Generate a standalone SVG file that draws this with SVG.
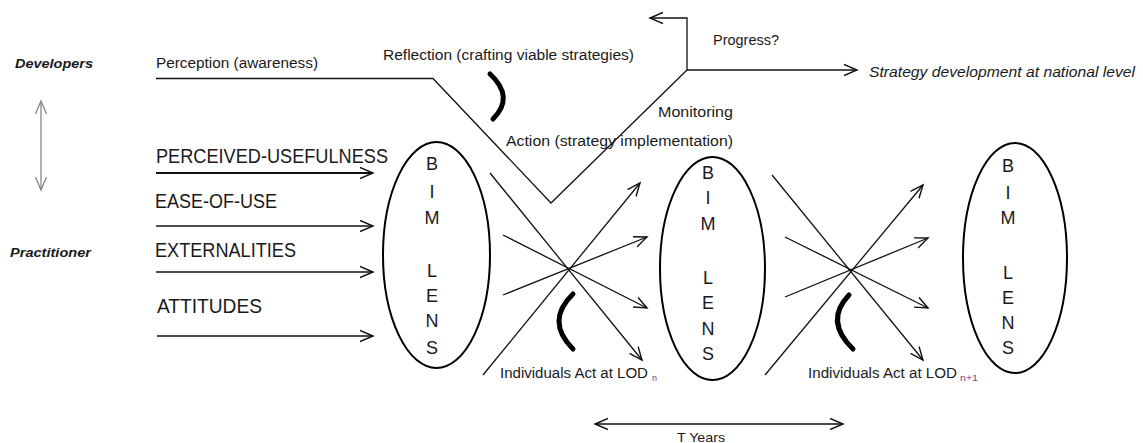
<svg xmlns="http://www.w3.org/2000/svg" width="1143" height="443" viewBox="0 0 1143 443">
<style>
text{font-family:"Liberation Sans",Arial,sans-serif;fill:#1a1a1a}
.t14{font-size:14px}
.big{font-size:20px}
.lens{font-size:18px;text-anchor:middle}
.bi{font-weight:bold;font-style:italic;font-size:13px}
.ln{fill:none;stroke:#111;stroke-width:1.3}
.ar{fill:none;stroke:#111;stroke-width:1.3;marker-end:url(#chev)}
.ar2{fill:none;stroke:#111;stroke-width:2;marker-end:url(#chev)}
.br{fill:none;stroke:#000;stroke-width:5;stroke-linecap:round}
.ell{fill:none;stroke:#000;stroke-width:2}
</style>
<defs>
<marker id="chev" markerUnits="userSpaceOnUse" markerWidth="16" markerHeight="14" refX="13" refY="6" orient="auto-start-reverse" viewBox="0 0 16 12">
<path d="M0,0.5 L13,6 L0,11.5" fill="none" stroke="#111" stroke-width="1.4"/>
</marker>
<marker id="chevg" markerUnits="userSpaceOnUse" markerWidth="16" markerHeight="14" refX="13" refY="6" orient="auto-start-reverse" viewBox="0 0 16 12">
<path d="M0,0.5 L13,6 L0,11.5" fill="none" stroke="#888" stroke-width="1.3"/>
</marker>
</defs>
<rect width="1143" height="443" fill="#fff"/>

<g id="labels">
<text class="bi" x="15" y="68" textLength="78" lengthAdjust="spacingAndGlyphs">Developers</text>
<text class="bi" x="10" y="257" textLength="81" lengthAdjust="spacingAndGlyphs">Practitioner</text>
<text class="t14" x="156" y="68" textLength="162" lengthAdjust="spacingAndGlyphs">Perception (awareness)</text>
<text class="t14" x="383" y="60" textLength="251" lengthAdjust="spacingAndGlyphs">Reflection (crafting viable strategies)</text>
<text class="t14" x="713" y="45" textLength="66" lengthAdjust="spacingAndGlyphs">Progress?</text>
<text class="t14" x="869" y="77" font-style="italic" textLength="266" lengthAdjust="spacingAndGlyphs">Strategy development at national level</text>
<text class="t14" x="658" y="117" textLength="75" lengthAdjust="spacingAndGlyphs">Monitoring</text>
<text class="t14" x="506" y="146" textLength="227" lengthAdjust="spacingAndGlyphs">Action (strategy implementation)</text>
<text class="t14" x="500" y="378" textLength="148" lengthAdjust="spacingAndGlyphs">Individuals Act at LOD</text>
<text x="652" y="381" font-size="9" fill="#7a3a8a" style="fill:#7a3a8a">n</text>
<text class="t14" x="808" y="378" textLength="149" lengthAdjust="spacingAndGlyphs">Individuals Act at LOD</text>
<text x="960" y="381" font-size="9" textLength="18" lengthAdjust="spacingAndGlyphs" style="fill:#7a3a8a">n+1</text>
<text x="677" y="442" font-size="13" textLength="48" lengthAdjust="spacingAndGlyphs">T Years</text>
</g>

<g id="factors">
<text class="big" x="156" y="163" textLength="232" lengthAdjust="spacingAndGlyphs">PERCEIVED-USEFULNESS</text>
<text class="big" x="155" y="208" textLength="122" lengthAdjust="spacingAndGlyphs">EASE-OF-USE</text>
<text class="big" x="155" y="257" textLength="141" lengthAdjust="spacingAndGlyphs">EXTERNALITIES</text>
<text class="big" x="157" y="313" textLength="105" lengthAdjust="spacingAndGlyphs">ATTITUDES</text>
</g>

<g id="lens1">
<ellipse class="ell" cx="436.5" cy="255" rx="53.5" ry="113"/>
<text class="lens" x="432" y="170">B</text>
<text class="lens" x="432" y="198">I</text>
<text class="lens" x="432" y="224">M</text>
<text class="lens" x="432" y="277">L</text>
<text class="lens" x="432" y="302">E</text>
<text class="lens" x="432" y="327">N</text>
<text class="lens" x="432" y="354">S</text>
</g>

<g id="lens2">
<ellipse class="ell" cx="712.5" cy="268.5" rx="52.5" ry="111.5"/>
<text class="lens" x="708" y="179">B</text>
<text class="lens" x="708" y="204">I</text>
<text class="lens" x="708" y="230">M</text>
<text class="lens" x="708" y="284">L</text>
<text class="lens" x="708" y="309">E</text>
<text class="lens" x="708" y="335">N</text>
<text class="lens" x="708" y="360">S</text>
</g>

<g id="lens3">
<ellipse class="ell" cx="1015" cy="258" rx="52" ry="115"/>
<text class="lens" x="1008" y="172">B</text>
<text class="lens" x="1008" y="199">I</text>
<text class="lens" x="1008" y="224">M</text>
<text class="lens" x="1008" y="279">L</text>
<text class="lens" x="1008" y="304">E</text>
<text class="lens" x="1008" y="329">N</text>
<text class="lens" x="1008" y="354">S</text>
</g>

<g id="connectors">
<!-- developers/practitioner double arrow -->
<line x1="41" y1="101" x2="41" y2="190" fill="none" stroke="#888" stroke-width="1.3" marker-start="url(#chevg)" marker-end="url(#chevg)"/>
<!-- factor arrows -->
<line class="ar2" x1="156" y1="173" x2="373" y2="173"/>
<line class="ar" x1="156" y1="226" x2="373" y2="226"/>
<line class="ar" x1="156" y1="272" x2="373" y2="272"/>
<line class="ar" x1="157" y1="336" x2="373" y2="336"/>
<!-- strategy path -->
<polyline class="ln" points="156,78.5 433,78.5 551,203 687,70"/>
<line class="ar" x1="687" y1="70" x2="857" y2="70"/>
<polyline class="ar" points="687,70 687,18 650,18"/>
<!-- bracket reflection -->
<path class="br" d="M490,74 Q515,97 493,119"/>
<!-- crossing 1 -->
<line class="ar" x1="490" y1="173" x2="642" y2="360"/>
<line class="ar" x1="503" y1="235" x2="647" y2="308"/>
<line class="ar" x1="503" y1="295" x2="647" y2="237"/>
<line class="ar" x1="483" y1="375" x2="640" y2="183"/>
<path class="br" d="M573,294 Q545,321 573,349"/>
<!-- crossing 2 -->
<line class="ar" x1="772" y1="175" x2="923" y2="360"/>
<line class="ar" x1="785" y1="237" x2="928" y2="308"/>
<line class="ar" x1="785" y1="297" x2="928" y2="238"/>
<line class="ar" x1="765" y1="375" x2="923" y2="185"/>
<path class="br" d="M849,295 Q824,321 853,349"/>
<!-- T years -->
<line x1="595" y1="424" x2="843" y2="424" fill="none" stroke="#111" stroke-width="1.5" marker-start="url(#chev)" marker-end="url(#chev)"/>
</g>
</svg>
